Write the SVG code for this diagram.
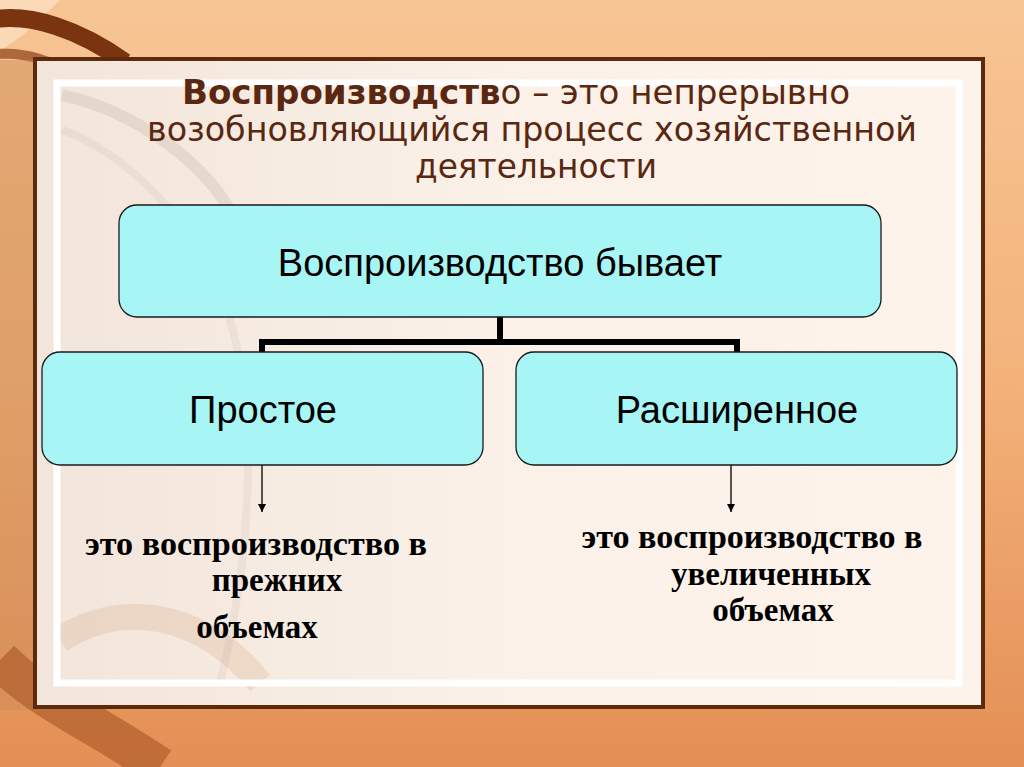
<svg xmlns="http://www.w3.org/2000/svg" width="1024" height="767" viewBox="0 0 1024 767">
<defs>
<linearGradient id="bg" x1="0" y1="0" x2="0" y2="1">
<stop offset="0" stop-color="#f7c594"/>
<stop offset="0.5" stop-color="#f3b27a"/>
<stop offset="1" stop-color="#e38f55"/>
</linearGradient>
<linearGradient id="panel" x1="0" y1="0" x2="1" y2="0">
<stop offset="0" stop-color="#f2e5db"/>
<stop offset="0.5" stop-color="#fbf1e8"/>
<stop offset="1" stop-color="#fdf3ea"/>
</linearGradient>
<marker id="arr" viewBox="0 0 10 10" refX="10" refY="5" markerWidth="8" markerHeight="8" markerUnits="userSpaceOnUse" orient="auto">
<path d="M0,0 L10,5 L0,10 z" fill="#000"/>
</marker>
<style>
.box{fill:#a7f5f5;stroke:#1a1a1a;stroke-width:1.3}
.lbl{font-family:"Liberation Sans",Arial,sans-serif;font-size:38px;fill:#000;text-anchor:middle}
.ttl{font-family:"DejaVu Sans","Verdana",sans-serif;font-size:33px;fill:#5a2710;text-anchor:middle}
.sub{font-family:"Liberation Serif","Times New Roman",serif;font-weight:bold;font-size:33px;fill:#000;text-anchor:middle}
.conn{fill:none;stroke:#000;stroke-width:6;stroke-linejoin:miter}
.arw{stroke:#000;stroke-width:1.3;marker-end:url(#arr)}
</style>
</defs>
<g id="background">
<rect x="0" y="0" width="1024" height="767" fill="url(#bg)"/>
<path d="M0,0 H60 C40,20 20,40 0,50 Z" fill="#fbe3c8" opacity="0.7"/>
<path d="M-10,20 C30,12 80,30 125,62" fill="none" stroke="#7a3410" stroke-width="18"/>
<path d="M-10,55 C20,50 50,60 75,75" fill="none" stroke="#9a5024" stroke-width="10" opacity="0.8"/>
<rect x="0" y="60" width="35" height="650" fill="#c98a55" opacity="0.45"/>
<path d="M0,660 C40,700 90,720 160,767" fill="none" stroke="#9c4a1a" stroke-width="40" opacity="0.5"/>
</g>
<g id="panel-frame">
<rect x="35" y="59" width="948" height="648" fill="url(#panel)" stroke="#5e2a0e" stroke-width="4"/>
<path d="M62,95 C130,110 210,160 240,230" fill="none" stroke="#7a6a60" stroke-width="12" opacity="0.13"/>
<path d="M62,130 C120,150 200,220 230,320 C260,420 250,560 220,683" fill="none" stroke="#7a6a60" stroke-width="8" opacity="0.07"/>
<path d="M60,640 C120,600 200,610 260,683" fill="none" stroke="#c07a45" stroke-width="26" opacity="0.15"/>
<rect x="57" y="83" width="902" height="600" fill="none" stroke="#ffffff" stroke-width="7"/>
</g>
<g id="title">
<text class="ttl" x="516" y="104" textLength="668" lengthAdjust="spacingAndGlyphs"><tspan font-weight="bold">Воспроизводств</tspan>о – это непрерывно</text>
<text class="ttl" x="532" y="141" textLength="770" lengthAdjust="spacingAndGlyphs">возобновляющийся процесс хозяйственной</text>
<text class="ttl" x="536" y="178" textLength="242" lengthAdjust="spacingAndGlyphs">деятельности</text>
</g>
<g id="connectors">
<path class="conn" d="M500,317 V342 H262 V352"/>
<path class="conn" d="M500,342 H737 V352"/>
<line class="arw" x1="262" y1="465" x2="262" y2="512"/>
<line class="arw" x1="731" y1="465" x2="731" y2="512"/>
</g>
<g id="node-root">
<rect class="box" x="119" y="205" width="762" height="112" rx="18"/>
<text class="lbl" x="500" y="276">Воспроизводство бывает</text>
</g>
<g id="node-simple">
<rect class="box" x="42" y="352" width="441" height="113" rx="18"/>
<text class="lbl" x="263" y="423">Простое</text>
</g>
<g id="node-extended">
<rect class="box" x="516" y="352" width="441" height="113" rx="18"/>
<text class="lbl" x="737" y="423">Расширенное</text>
</g>
<g id="desc-simple">
<text class="sub" x="256" y="555" textLength="342" lengthAdjust="spacingAndGlyphs">это воспроизводство в</text>
<text class="sub" x="277" y="591">прежних</text>
<text class="sub" x="257" y="638">объемах</text>
</g>
<g id="desc-extended">
<text class="sub" x="752" y="548" textLength="341" lengthAdjust="spacingAndGlyphs">это воспроизводство в</text>
<text class="sub" x="771" y="585">увеличенных</text>
<text class="sub" x="773" y="621">объемах</text>
</g>
</svg>
